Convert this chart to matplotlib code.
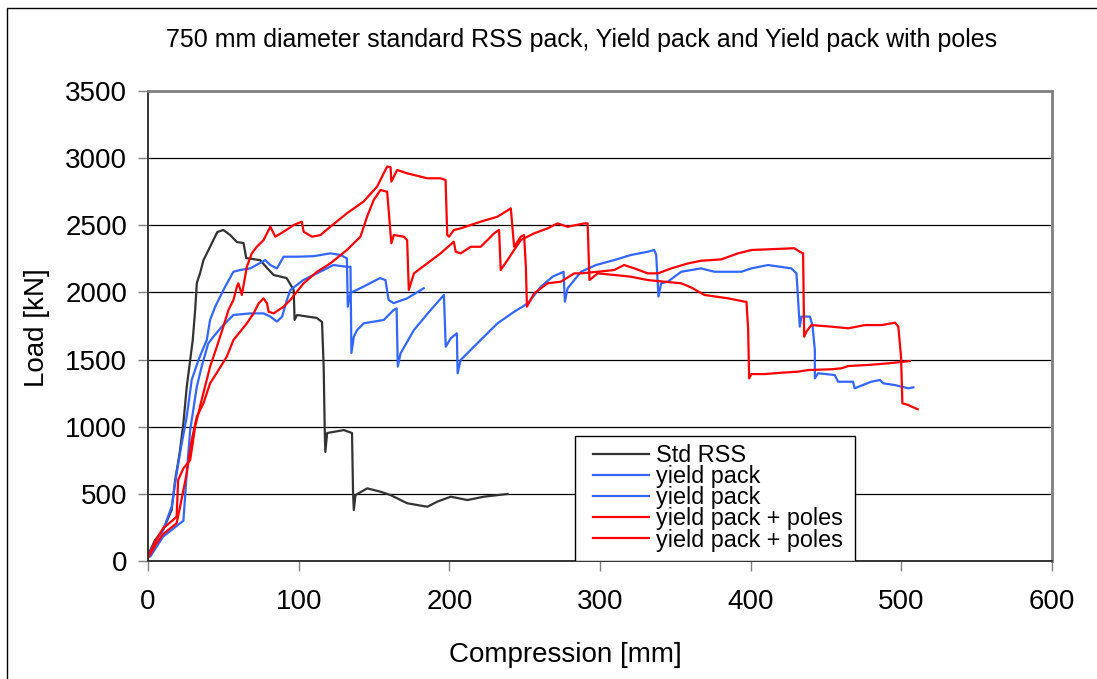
import matplotlib
matplotlib.use("Agg")
import matplotlib.pyplot as plt
from matplotlib.patches import Rectangle

plt.rcParams['font.family'] = ['Liberation Sans', 'DejaVu Sans']

# Std RSS
std_x = [0, 4.7, 10, 15.7, 18, 21, 23.5, 25.7, 28, 29.7, 31.3, 32.4, 34.6, 36.8, 41.2, 46, 50, 54.5,
         59, 63.4, 65.2, 74.5, 79, 83.4, 92, 96.7, 97.3, 98.9, 112, 115.5, 116.6, 117.3, 117.7, 118.9,
         130, 135.4, 136.1, 136.6, 137.7, 145.5, 154.3, 161, 172, 185.4, 192, 201, 212, 223, 238.6]
std_y = [45, 156, 231, 380, 603, 804, 1027, 1296, 1497, 1646, 1869, 2070, 2145, 2240, 2340, 2450, 2465, 2428,
         2375, 2368, 2256, 2240, 2182, 2130, 2107, 2018, 1795, 1832, 1810, 1780, 1445, 975, 812, 953,
         975, 953, 506, 380, 491, 541, 516, 491, 430, 404, 442, 479, 454, 479, 499]

# yield pack (1)
yp1_x = [0, 5, 10, 15.7, 19, 22, 25.7, 29, 33.5, 39, 41.2, 44.6, 47.9, 51.2, 56.7, 61.2, 67.9, 77.8,
         81.2, 85.6, 90, 98.9, 110, 121, 127.7, 132, 132.6, 134.4, 143, 154, 157.6, 159.7, 163, 172, 183]
yp1_y = [40, 150, 230, 404, 653, 850, 1075, 1348, 1497, 1646, 1795, 1894, 1969, 2043, 2154, 2167, 2179, 2241,
         2204, 2179, 2266, 2266, 2270, 2291, 2279, 2254, 1894, 1996, 2043, 2107, 2092, 1944, 1920, 1956, 2031]

# yield pack (2)
yp2_x = [1.6, 10, 21.3, 23.5, 25.7, 28, 32.4, 35.6, 40, 43.4, 49, 56.7, 67.9, 76.7, 81.2, 85.6, 89, 92.2,
         94.5, 103, 116.6, 123, 132, 134.4, 135, 136.6, 138.8, 143.2, 156.5, 163, 165, 165.8, 167.6, 176.5,
         187.6, 196.4, 197.6, 201, 205, 205.5, 207.5, 220.8, 232, 243, 252, 260.8, 268.5, 275.8, 276.7,
         278.5, 287.4, 297.3, 309.5, 320.6, 331.7, 336, 337.3, 338.8, 340.6, 345, 353.9, 367, 376, 393.8,
         400.5, 411.5, 427, 430.4, 432.6, 433.7, 439.3, 441, 442.6, 442.6, 444.7, 455.8, 458, 468, 469,
         480, 485.8, 488, 495.8, 504.6, 508]
yp2_y = [35, 181, 281, 300, 653, 975, 1298, 1447, 1621, 1670, 1745, 1832, 1844, 1844, 1820, 1783, 1820, 1944,
         2018, 2092, 2167, 2204, 2191, 2191, 1549, 1670, 1720, 1770, 1795, 1869, 1881, 1448, 1546, 1720,
         1869, 1981, 1596, 1659, 1696, 1398, 1497, 1646, 1770, 1856, 1918, 2043, 2117, 2154, 1931,
         2031, 2154, 2204, 2241, 2279, 2303, 2316, 2279, 1969, 2068, 2080, 2154, 2179, 2154, 2154,
         2179, 2204, 2179, 2142, 1745, 1820, 1820, 1757, 1571, 1360, 1398, 1385, 1335, 1335, 1286,
         1335, 1348, 1323, 1310, 1286, 1293]

# yield pack + poles (1)
ypp1_x = [0, 5, 10, 15, 19, 20, 23.5, 28, 31.3, 35.6, 41.2, 45.7, 50, 53.4, 56.7, 59, 60, 62.3, 65.6,
          68.9, 72.2, 76.7, 81.2, 84.5, 90, 96.7, 102.1, 103.3, 108.8, 114.4, 121, 132, 143, 152, 158.7,
          161, 161.5, 165.4, 172, 185.3, 194.2, 197.5, 198.6, 199.8, 203, 207.5, 220.8, 232, 240.8, 243,
          247.4, 249.6, 250.8, 251.5, 256.3, 265.2, 274, 282.9, 287.4, 298.5, 309.5, 316, 322.8, 331.7,
          338.4, 347.3, 358.4, 367.2, 380.5, 391.6, 400.5, 411.5, 429, 432.6, 434.8, 435.5, 437, 440.3,
          453.7, 464.8, 475.9, 487, 495.8, 498, 499.8, 500.7, 504.6, 506.8, 510.9]
ypp1_y = [30, 150, 243, 290, 330, 603, 690, 752, 1000, 1199, 1447, 1596, 1745, 1869, 1944, 2043, 2068, 1981, 2191,
          2291, 2340, 2390, 2489, 2415, 2452, 2502, 2527, 2452, 2415, 2427, 2489, 2589, 2676, 2787, 2937,
          2932, 2825, 2912, 2887, 2850, 2850, 2837, 2428, 2415, 2465, 2477, 2527, 2564, 2626, 2340,
          2415, 2427, 2191, 1894, 1993, 2068, 2080, 2142, 2142, 2154, 2167, 2204, 2179, 2142,
          2142, 2179, 2216, 2236, 2246, 2291, 2316, 2321, 2329, 2303, 2291, 1670, 1708, 1757,
          1745, 1733, 1757, 1757, 1775, 1745, 1522, 1174, 1162, 1150, 1130]

# yield pack + poles (2)
ypp2_x = [0, 5, 10, 19, 21.3, 25.7, 29, 32.4, 36.8, 41.2, 46.8, 52.3, 56.7, 61.2, 65.6, 70.1, 73.4, 76.7,
          79, 80.1, 83.4, 90, 94.5, 103.3, 112.2, 121, 132, 141, 145.4, 149.8, 154.3, 158.7, 159.9, 161.5,
          163.2, 169.8, 172, 173.1, 176.5, 185.3, 194.2, 203, 204.2, 207.5, 214.2, 220.8, 225.3, 229.7, 233,
          234.1, 238.6, 243, 247.4, 256.3, 265.2, 271.8, 278.5, 289.6, 291.8, 293, 298.5, 309.5, 320.6,
          331.7, 342.8, 353.9, 360.5, 369.4, 385, 396.1, 397.2, 398.3, 399, 400.5, 409.3, 420.4, 431.5,
          438.2, 453.7, 460.3, 464.8, 478.1, 491.4, 505.7]
ypp2_y = [20, 120, 200, 281, 404, 653, 901, 1075, 1174, 1323, 1422, 1522, 1646, 1708, 1770, 1844, 1918, 1956,
          1918, 1856, 1844, 1894, 1944, 2068, 2154, 2216, 2316, 2415, 2564, 2688, 2763, 2750, 2589, 2366,
          2428, 2415, 2390, 2018, 2142, 2216, 2291, 2378, 2303, 2291, 2340, 2340, 2390, 2440, 2465,
          2167, 2241, 2316, 2390, 2440, 2477, 2514, 2489, 2514, 2514, 2092, 2142, 2130, 2117,
          2092, 2080, 2068, 2037, 1981, 1956, 1931, 1931, 1733, 1360, 1392, 1392, 1402, 1410,
          1422, 1428, 1435, 1452, 1460, 1472, 1489]

series = [
    (std_x, std_y, '#333333', 'Std RSS'),
    (yp1_x, yp1_y, '#3366FF', 'yield pack'),
    (yp2_x, yp2_y, '#3366FF', 'yield pack'),
    (ypp1_x, ypp1_y, '#FF0000', 'yield pack + poles'),
    (ypp2_x, ypp2_y, '#FF0000', 'yield pack + poles'),
]

fig = plt.figure(figsize=(10.97, 6.79), dpi=100)
ax = fig.add_axes([148 / 1097, 1 - 561 / 679, 904 / 1097, 470 / 679])

for x, y, c, lab in series:
    ax.plot(x, y, color=c, lw=1.6, label=lab)

ax.set_xlim(0, 600)
ax.set_ylim(0, 3500)
ax.set_xticks(range(0, 601, 100))
ax.set_yticks(range(0, 3501, 500))
ax.yaxis.grid(True, color='black', lw=0.9)
ax.set_axisbelow(True)

for s in ['top', 'right']:
    ax.spines[s].set_color('#808080')
    ax.spines[s].set_linewidth(2)
for s in ['left', 'bottom']:
    ax.spines[s].set_color('#333333')
    ax.spines[s].set_linewidth(1.4)
ax.tick_params(direction='out', length=7, width=1, color='#808080', labelsize=20)
ax.tick_params(axis='y', pad=8)
ax.tick_params(axis='x', pad=13)

# legend box drawn by hand (Excel style padding), entries without frame
ax.add_patch(Rectangle(((575 - 148) / 904, 0), 280 / 904, 125 / 470, transform=ax.transAxes,
                       facecolor='white', edgecolor='black', lw=1, zorder=4))
leg = ax.legend(loc='lower left', bbox_to_anchor=((593 - 148) / 904, 0.02), borderaxespad=0,
                fontsize=16.8, labelspacing=-0.08, handlelength=2.4, handletextpad=0.3,
                frameon=False, borderpad=0)
leg.set_zorder(5)

fig.text(0.53, 1 - 40 / 679, '750 mm diameter standard RSS pack, Yield pack and Yield pack with poles',
         ha='center', va='center', fontsize=18)
fig.text(37 / 1097, 1 - 328 / 679, 'Load [kN]', rotation=90, ha='center', va='center', fontsize=20)
fig.text(565 / 1097, 1 - 655 / 679, 'Compression [mm]', ha='center', va='center', fontsize=20)

fig.patches.append(Rectangle((7 / 1097, -0.1), 1.2, 1.1 - 8 / 679, transform=fig.transFigure,
                             fill=False, edgecolor='black', lw=1))

fig.savefig('out.png', dpi=100)
